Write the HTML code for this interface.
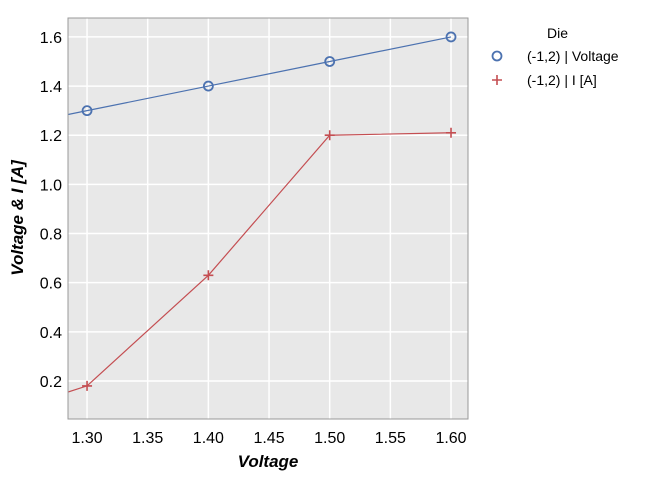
<!DOCTYPE html>
<html><head><meta charset="utf-8"><style>
body{margin:0;background:#fff;}
svg{display:block;font-family:"Liberation Sans",Arial,sans-serif;}
</style></head><body>
<svg id="chart" width="657" height="480"></svg>
<script>
const xValues=[1.30,1.40,1.50,1.60];
const voltageSeries=[1.30,1.40,1.50,1.60];
const currentSeries=[0.18,0.63,1.20,1.21];
const leftEdgeValues=[null,0.155];
const xTicks=[1.30,1.35,1.40,1.45,1.50,1.55,1.60];
const yTicks=[0.2,0.4,0.6,0.8,1.0,1.2,1.4,1.6];
const L=68,R=468,T=18,B=419;
const xMin=1.2843,xMax=1.614,yMin=0.0453,yMax=1.677;
const sx=v=>L+(v-xMin)/(xMax-xMin)*(R-L);
const sy=v=>B-(v-yMin)/(yMax-yMin)*(B-T);
const svg=document.getElementById('chart');
const NS='http://www.w3.org/2000/svg';
function mk(tag,attrs,parent){const e=document.createElementNS(NS,tag);for(const k in attrs)e.setAttribute(k,attrs[k]);(parent||svg).appendChild(e);return e;}
const bg=mk('rect',{x:L,y:T,width:R-L,height:B-T,fill:'#e8e8e8'});


xTicks.forEach(t=>{
  const g=mk('line',{x1:sx(t),x2:sx(t),y1:T,y2:B,stroke:'#fff','stroke-width':1.5});
  
  
  const tx=mk('text',{x:sx(t),y:B+24,'text-anchor':'middle','font-size':16,fill:'#000'});
  tx.textContent=t.toFixed(2);
  
  
});
yTicks.forEach(t=>{
  const g=mk('line',{x1:L,x2:R,y1:sy(t),y2:sy(t),stroke:'#fff','stroke-width':1.5});
  
  
  const tx=mk('text',{x:L-6,y:sy(t)+6,'text-anchor':'end','font-size':16,fill:'#000'});
  tx.textContent=t.toFixed(1);
  
  
});
const clip=mk('clipPath',{id:'c'});mk('rect',{x:L,y:T,width:R-L,height:B-T},clip);
function series(vals,edge,color,name){
  const s0=(vals[1]-vals[0])/(xValues[1]-xValues[0]);
  const e=edge!=null?edge:vals[0]+(xMin-xValues[0])*s0;
  const pts=[[sx(xMin),sy(e)]].concat(xValues.map((x,i)=>[sx(x),sy(vals[i])]));
  const p=mk('polyline',{points:pts.map(p=>p.join(',')).join(' '),fill:'none',stroke:color,'stroke-width':1.2,'clip-path':'url(#c)'});
  
  
}
series(voltageSeries,leftEdgeValues[0],'#4c72b0','voltage');
series(currentSeries,leftEdgeValues[1],'#c44e52','current');
xValues.forEach((x,i)=>{
  const c=mk('circle',{cx:sx(x),cy:sy(voltageSeries[i]),r:4.5,fill:'none',stroke:'#4c72b0','stroke-width':1.8});
  
  
  const X=sx(x),Y=sy(currentSeries[i]);
  const m=mk('path',{d:`M${X-5},${Y}H${X+5}M${X},${Y-5}V${Y+5}`,stroke:'#c44e52','stroke-width':1.6});
  
  
});
const fr=mk('rect',{x:L,y:T,width:R-L,height:B-T,fill:'none',stroke:'#999','stroke-width':1});


const xt=mk('text',{x:268,y:467,'text-anchor':'middle','font-size':17,'font-weight':'bold','font-style':'italic'});
xt.textContent='Voltage';


const yt=mk('text',{x:0,y:0,transform:'translate(23,218) rotate(-90)','text-anchor':'middle','font-size':17,'font-weight':'bold','font-style':'italic'});
yt.textContent='Voltage & I [A]';


const lt=mk('text',{x:547,y:38,'font-size':14});lt.textContent='Die';


const lc=mk('circle',{cx:497,cy:56,r:4.5,fill:'none',stroke:'#4c72b0','stroke-width':1.8});


const l1=mk('text',{x:527,y:61,'font-size':14});l1.textContent='(-1,2) | Voltage';


const lp=mk('path',{d:'M492,80H502M497,75V85',stroke:'#c44e52','stroke-width':1.6});


const l2=mk('text',{x:527,y:85,'font-size':14});l2.textContent='(-1,2) | I [A]';


</script>
</body></html>
